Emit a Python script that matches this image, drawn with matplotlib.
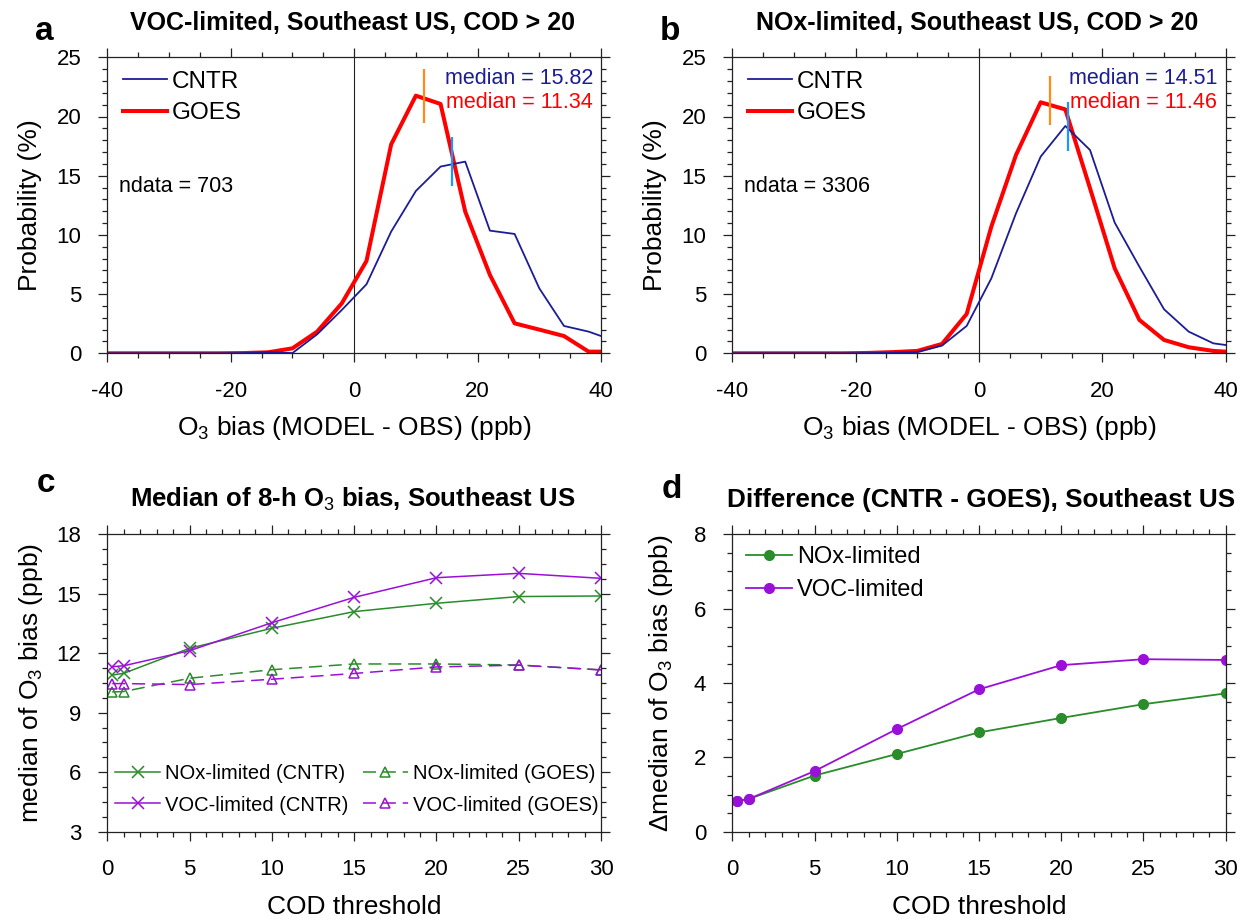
import matplotlib
matplotlib.use('Agg')
import matplotlib.pyplot as plt
from matplotlib.ticker import MultipleLocator

plt.rcParams['font.family'] = ['Liberation Sans', 'DejaVu Sans']
plt.rcParams['mathtext.fontset'] = 'custom'
plt.rcParams['mathtext.rm'] = 'Liberation Sans'
plt.rcParams['mathtext.it'] = 'Liberation Sans:italic'
plt.rcParams['mathtext.bf'] = 'Liberation Sans:bold'

# ---------------- data ----------------
bias_bins = [-40, -38, -34, -30, -26, -22, -18, -14, -10, -6, -2, 2, 6, 10,
             14, 18, 22, 26, 30, 34, 38, 40]
voc_cntr_prob = [0, 0, 0, 0, 0, 0, 0.02, 0.1, 0.02, 1.6, 3.66, 5.83, 10.28,
                 13.71, 15.77, 16.19, 10.36, 10.08, 5.49, 2.31, 1.83, 1.46]
voc_goes_prob = [0, 0, 0, 0, 0, 0, 0.02, 0.08, 0.42, 1.83, 4.22, 7.8, 17.65,
                 21.76, 21.06, 11.97, 6.62, 2.53, 2.0, 1.46, 0.14, 0.14]
nox_cntr_prob = [0, 0, 0, 0, 0, 0, 0.02, 0.05, 0.1, 0.65, 2.31, 6.33, 11.82,
                 16.61, 19.2, 17.17, 11.04, 7.32, 3.72, 1.83, 0.84, 0.7]
nox_goes_prob = [0, 0, 0, 0, 0, 0, 0.03, 0.1, 0.2, 0.79, 3.32, 10.7, 16.75,
                 21.2, 20.6, 13.94, 7.18, 2.82, 1.13, 0.51, 0.2, 0.14]

voc_medians = [15.82, 11.34]          # CNTR, GOES
voc_median_span = [(14.13, 18.24), (19.44, 23.98)]
nox_medians = [14.51, 11.46]
nox_median_span = [(17.12, 21.26), (19.28, 23.42)]
ndata = [703, 3306]

cod = [0.3, 1, 5, 10, 15, 20, 25, 30]
nox_cntr_med = [10.9, 10.99, 12.25, 13.26, 14.10, 14.52, 14.86, 14.89]
voc_cntr_med = [11.32, 11.37, 12.13, 13.54, 14.82, 15.81, 16.03, 15.78]
nox_goes_med = [10.05, 10.07, 10.74, 11.17, 11.46, 11.46, 11.41, 11.16]
voc_goes_med = [10.47, 10.47, 10.42, 10.69, 10.98, 11.31, 11.40, 11.16]

nox_diff = [0.83, 0.88, 1.51, 2.09, 2.67, 3.06, 3.43, 3.72]
voc_diff = [0.83, 0.88, 1.63, 2.76, 3.83, 4.48, 4.64, 4.62]

# ---------------- styles ----------------
W, H = 1249, 923
BLUE = '#1c1c96'
RED = '#ff0000'
ORANGE = '#ff8c1a'
LBLUE = '#1e96ff'
GREEN = '#2a8c2a'
PURPLE = '#9a10d8'

fig = plt.figure(figsize=(W / 100, H / 100), dpi=100)


def P(x, y):
    return (x / W, 1 - y / H)


def rect(x0, x1, y0, y1):
    return [x0 / W, 1 - y1 / H, (x1 - x0) / W, (y1 - y0) / H]


def style_axes(ax):
    ax.tick_params(which='both', direction='out', top=True, right=True,
                   labelsize=16, width=0.9, color='#222222')
    ax.tick_params(which='major', length=6.7)
    ax.tick_params(which='minor', length=3.6)
    ax.tick_params(axis='x', pad=13)
    ax.tick_params(axis='y', pad=12)
    for s in ax.spines.values():
        s.set_linewidth(0.9)
        s.set_color('#222222')


LAB = 19
TIT = 18.5

# ---------- panels a & b ----------
panels_ab = [
    (rect(107.3, 601, 57.3, 353.3), voc_cntr_prob, voc_goes_prob, voc_medians,
     voc_median_span, ndata[0], 'VOC-limited, Southeast US, COD > 20', 'a'),
    (rect(732.3, 1225.7, 57.3, 353.3), nox_cntr_prob, nox_goes_prob, nox_medians,
     nox_median_span, ndata[1], 'NOx-limited, Southeast US, COD > 20', 'b'),
]
for i, (r, cntr, goes, meds, spans, nd, title, letter) in enumerate(panels_ab):
    ax = fig.add_axes(r)
    ax.axvline(0, color='#222222', lw=0.8, zorder=1)
    ax.plot(bias_bins, cntr, color=BLUE, lw=1.3, label='CNTR', zorder=3)
    ax.plot(bias_bins, goes, color=RED, lw=2.9, label='GOES', zorder=2)
    ax.vlines(meds[1], spans[1][0], spans[1][1], color=ORANGE, lw=1.6, zorder=4)
    ax.vlines(meds[0], spans[0][0], spans[0][1], color=LBLUE, lw=1.6, zorder=4)
    ax.set_xlim(-40, 40)
    ax.set_ylim(0, 25)
    ax.xaxis.set_major_locator(MultipleLocator(20))
    ax.xaxis.set_minor_locator(MultipleLocator(5))
    ax.yaxis.set_major_locator(MultipleLocator(5))
    ax.yaxis.set_minor_locator(MultipleLocator(1))
    style_axes(ax)
    ax.set_xticks([-40, -20, 0, 20, 40])
    ax.set_xticklabels(['-40', '-20', '0', '20', '40'])
    ax.set_xlabel('O$_3$ bias (MODEL - OBS) (ppb)', fontsize=LAB)
    ax.xaxis.set_label_coords(0.5, (353.3 - 428) / 296)
    ax.xaxis.label.set_va('center')
    ax.set_ylabel('Probability (%)', fontsize=LAB)
    ax.yaxis.set_label_coords((30 - 107.3) / 493.7, 0.5)
    ax.yaxis.label.set_va('center')
    ox = 625 * i
    ax.legend(loc='center left', bbox_to_anchor=P(123 + ox, 97.5),
              bbox_transform=fig.transFigure, frameon=False, fontsize=17.5,
              handlelength=1.8, handletextpad=0.2, labelspacing=0.37,
              borderpad=0, borderaxespad=0)
    rx = 593 if i == 0 else 1217
    fig.text(*P(rx, 79), f'median = {meds[0]:.2f}', color=BLUE, fontsize=15.5,
             ha='right', va='center')
    fig.text(*P(rx, 103), f'median = {meds[1]:.2f}', color=RED, fontsize=15.5,
             ha='right', va='center')
    fig.text(*P(119 + ox, 187), f'ndata = {nd}', fontsize=15.5, ha='left',
             va='center')
    fig.text(*P(352 + ox, 30), title, fontsize=18, fontweight='bold',
             ha='center', va='baseline')
    fig.text(*P(35 + ox, 40), letter, fontsize=24, fontweight='bold',
             ha='left', va='baseline')

# ---------- panel c ----------
axc = fig.add_axes(rect(107.3, 601, 534.3, 831.7))
axc.plot(cod, nox_cntr_med, color=GREEN, lw=1.1, marker='x', ms=8, mew=1.1,
         label='NOx-limited (CNTR)')
axc.plot(cod, voc_cntr_med, color=PURPLE, lw=1.1, marker='x', ms=8, mew=1.1,
         label='VOC-limited (CNTR)')
axc.plot(cod, nox_goes_med, color=GREEN, lw=1.1, marker='^', ms=7, mew=1.1,
         mfc='none', dashes=(8.5, 4.5), label='NOx-limited (GOES)')
axc.plot(cod, voc_goes_med, color=PURPLE, lw=1.1, marker='^', ms=7, mew=1.1,
         mfc='none', dashes=(8.5, 4.5), label='VOC-limited (GOES)')
axc.set_xlim(0, 30)
axc.set_ylim(3, 18)
axc.xaxis.set_major_locator(MultipleLocator(5))
axc.xaxis.set_minor_locator(MultipleLocator(1))
axc.yaxis.set_major_locator(MultipleLocator(3))
axc.yaxis.set_minor_locator(MultipleLocator(0.75))
style_axes(axc)
axc.set_xlabel('COD threshold', fontsize=LAB)
axc.xaxis.set_label_coords(0.5, (831.7 - 907) / 297.4)
axc.xaxis.label.set_va('center')
axc.set_ylabel('median of O$_3$ bias (ppb)', fontsize=LAB)
axc.yaxis.set_label_coords((31 - 107.3) / 493.7, 0.5)
axc.yaxis.label.set_va('center')
axc.legend(loc='center left', bbox_to_anchor=P(115, 789.5),
           bbox_transform=fig.transFigure, frameon=False, fontsize=14.5, ncol=2,
           handlelength=2.25, handletextpad=0.25, labelspacing=0.6,
           columnspacing=0.7, borderpad=0, borderaxespad=0)
fig.text(*P(353, 507), 'Median of 8-h O$_3$ bias, Southeast US', fontsize=TIT,
         fontweight='bold', ha='center', va='baseline')
fig.text(*P(37, 492), 'c', fontsize=24, fontweight='bold', ha='left',
         va='baseline')

# ---------- panel d ----------
axd = fig.add_axes(rect(732.3, 1225.7, 534.3, 831.7))
axd.plot(cod, nox_diff, color=GREEN, lw=1.3, marker='o', ms=7,
         label='NOx-limited')
axd.plot(cod, voc_diff, color=PURPLE, lw=1.3, marker='o', ms=7,
         label='VOC-limited')
axd.set_xlim(0, 30)
axd.set_ylim(0, 8)
axd.xaxis.set_major_locator(MultipleLocator(5))
axd.xaxis.set_minor_locator(MultipleLocator(1))
axd.yaxis.set_major_locator(MultipleLocator(2))
axd.yaxis.set_minor_locator(MultipleLocator(0.5))
style_axes(axd)
axd.set_xlabel('COD threshold', fontsize=LAB)
axd.xaxis.set_label_coords(0.5, (831.7 - 907) / 297.4)
axd.xaxis.label.set_va('center')
axd.set_ylabel('\u0394median of O$_3$ bias (ppb)', fontsize=LAB)
axd.yaxis.set_label_coords((661 - 732.3) / 493.4, 0.5)
axd.yaxis.label.set_va('center')
axd.legend(loc='center left', bbox_to_anchor=P(746, 573.5),
           bbox_transform=fig.transFigure, frameon=False, fontsize=17,
           handlelength=1.95, handletextpad=0.2, labelspacing=0.47,
           borderpad=0, borderaxespad=0)
fig.text(*P(981, 507), 'Difference (CNTR - GOES), Southeast US', fontsize=18.8,
         fontweight='bold', ha='center', va='baseline')
fig.text(*P(662, 498), 'd', fontsize=24, fontweight='bold', ha='left',
         va='baseline')

fig.savefig('out.png', dpi=100)
